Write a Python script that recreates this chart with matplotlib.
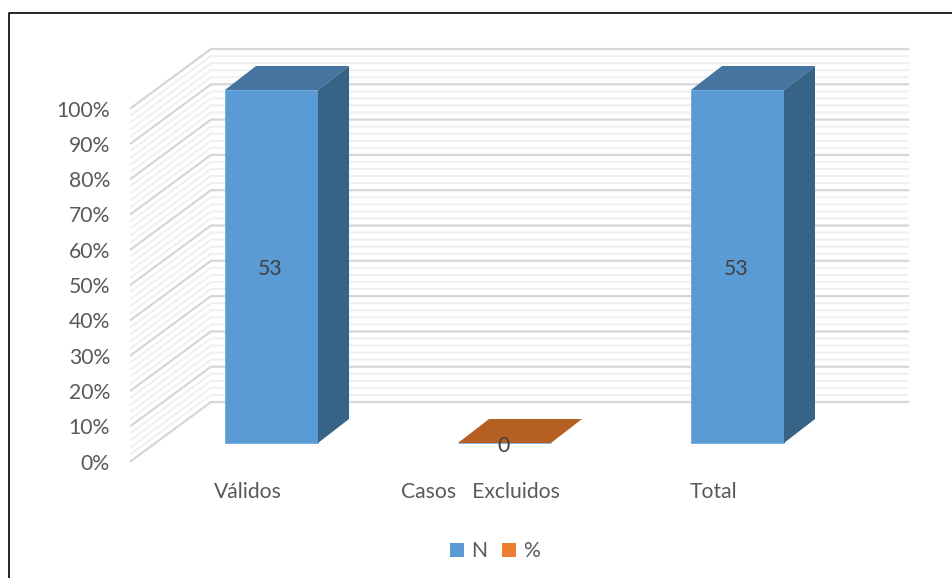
import matplotlib
matplotlib.use('Agg')
import matplotlib.pyplot as plt
from matplotlib.lines import Line2D
from matplotlib.patches import Patch, Polygon

categories = ['Válidos', 'Casos   Excluidos', 'Total']
n_values = [53, 0, 53]
share_values = [100, 0, 100]
value_ticks = [0, 10, 20, 30, 40, 50, 60, 70, 80, 90, 100]
minor_ticks = [v for v in range(0, 101, 2) if v % 10 != 0]
series_names = ['N', '%']

W, H = 953, 578
STEP = 233.0      # pixels between categories
PX_Y = 3.53       # pixels per percent
X0, Y0 = 271.5, 443.0   # pixel position of first bar centre / bar base


def dx(px):
    return px / STEP


def dy(px):
    return px / PX_Y


fig = plt.figure(figsize=(W / 100, H / 100), dpi=100, facecolor='white')
ax = fig.add_axes([0, 0, 1, 1])
ax.set_xlim(-X0 / STEP, (W - X0) / STEP)
ax.set_ylim((Y0 - H) / PX_Y, Y0 / PX_Y)
ax.axis('off')
plt.rcParams['font.family'] = ['Lato', 'DejaVu Sans']

# walls: front edge, back edge and right end of the gridlines
x_front, x_back, x_end = dx(131 - X0), dx(211 - X0), dx(908 - X0)
y_front, y_back = dy(-18), dy(41)


def grid_line(v, color, lw):
    ax.plot([x_front, x_back, x_end], [v + y_front, v + y_back, v + y_back],
            color=color, lw=lw, zorder=1, solid_joinstyle='miter')


for v in minor_ticks:
    grid_line(v, '#f0f0f0', 1.5)
for v in value_ticks:
    grid_line(v, '#d6d6d6', 1.6)

# bars with fake depth
pos = list(range(len(categories)))
width = dx(93)
depth_x, depth_y = dx(31), dy(24)
ax.bar(pos, share_values, width=width, color='#5b9bd5', edgecolor='#6fa8da', lw=0.6, zorder=3)
for x, h in zip(pos, share_values):
    l, r = x - width / 2, x + width / 2
    top = [(l, h), (r, h), (r + depth_x, h + depth_y), (l + depth_x, h + depth_y)]
    if h > 0:
        side = [(r, 0), (r + depth_x, depth_y), (r + depth_x, h + depth_y), (r, h)]
        ax.add_patch(Polygon(top, closed=True, fc='#44749f', ec='none', zorder=4))
        ax.add_patch(Polygon(side, closed=True, fc='#376387', ec='none', zorder=4))
    else:
        ax.add_patch(Polygon(top, closed=True, fc='#b55f22', ec='none', zorder=4))

# labels
text_color = '#595959'
fs = 15.2
for x, h, n in zip(pos, share_values, n_values):
    ax.text(x - dx(1), h / 2 - dy(2.5), str(n), ha='center', va='center',
            fontsize=fs, color='#404040', zorder=6)
for x, c in zip(pos, categories):
    ax.text(x - dx(24), dy(Y0 - 492.5), c, ha='center', va='center', fontsize=fs, color=text_color)
for v in value_ticks:
    ax.text(dx(110 - X0), v + y_front - dy(2.5), str(v) + '%', ha='right', va='center',
            fontsize=fs, color=text_color)

# legend
handles = [Patch(fc='#5b9bd5', label=series_names[0]), Patch(fc='#ed7d31', label=series_names[1])]
ax.legend(handles=handles, loc='center', bbox_to_anchor=(495 / W, 1 - 551 / H), ncol=2, frameon=False,
          fontsize=fs, labelcolor=text_color, handlelength=0.65, handleheight=0.65,
          handletextpad=0.35, columnspacing=0.7)

# outer frame (left and top only, cropped in the source)
fig.add_artist(Line2D([9 / W, 9 / W, 1], [0, 1 - 12.5 / H, 1 - 12.5 / H], color='black', lw=1.2))

fig.savefig('out.png', dpi=100)
